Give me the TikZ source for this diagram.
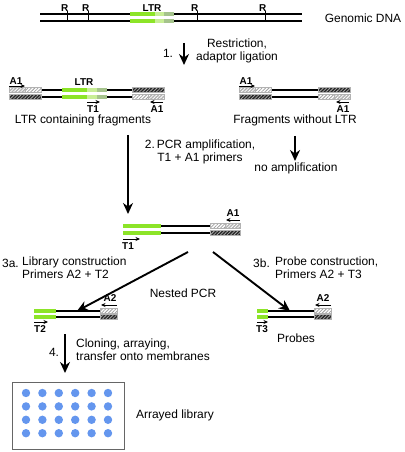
\documentclass[tikz,border=0pt]{standalone}
\usepackage{fontspec}
\setmainfont{Liberation Sans}
\usetikzlibrary{patterns.meta,arrows.meta}
\definecolor{ltrA}{RGB}{140,228,40}
\definecolor{ltrB}{RGB}{200,238,150}
\definecolor{ltrC}{RGB}{165,195,140}
\definecolor{dotblue}{RGB}{100,150,238}
\newcommand\hatchbox[5]{% x1 x2 y fill linecolor
  \fill[#4] (#1,#3-2.4) rectangle (#2,#3+2.4);
  \fill[pattern={Lines[angle=45,distance=2.4bp,line width=0.8bp]},pattern color=#5] (#1,#3-2.4) rectangle (#2,#3+2.4);
  \draw[gray!60,line width=0.3bp] (#1,#3-2.4) rectangle (#2,#3+2.4);}
\newcommand\gbox[4]{\fill[#4] (#1,#3-2.4) rectangle (#2,#3+2.4);}
\newcommand\ltrseg[5]{\gbox{#1}{#2}{#5}{ltrA}\gbox{#2}{#3}{#5}{ltrB}\gbox{#3}{#4}{#5}{ltrC}}
\newcommand\graybox[3]{\hatchbox{#1}{#2}{#3}{gray!60}{white}}
\newcommand\whitebox[3]{\hatchbox{#1}{#2}{#3}{white}{gray!75}}
\newcommand\darkbox[3]{\hatchbox{#1}{#2}{#3}{black!85}{gray!70}}
\begin{document}
\begin{tikzpicture}[x=1bp,y=-1bp,
  strand/.style={line width=1.1bp},
  tick/.style={line width=0.8bp},
  prim/.style={-{Stealth[length=4.5bp,width=4bp]},line width=0.9bp},
  big/.style={-{Stealth[length=11bp,width=10bp]},line width=1.9bp},
  lab/.style={font=\fontsize{10}{10}\selectfont\bfseries,inner sep=0},
  txt/.style={font=\fontsize{12}{13}\selectfont,inner sep=0}]
\useasboundingbox (0,0) rectangle (404,452);

% ---------- Genomic DNA
\draw[strand] (40,14) -- (302,14) (40,21) -- (302,21);
\ltrseg{130}{155}{164}{174}{14}
\ltrseg{130}{155}{164}{174}{21}
\foreach \x/\n in {67/1,88/2,197/3,265/4}{
  \draw[tick] (\x,11) -- (\x,21);
  \node[lab,anchor=south east] (r\n) at (\x+1.5,12) {R};}
\node[lab] (ltr0) at (152,8) {LTR};
\node[txt] (gdna) at (363,18) {Genomic DNA};

% ---------- step 1
\coordinate (s1a) at (184,43); \coordinate (s1b) at (184,65);
\draw[big] (s1a) -- (s1b);
\node[txt] (n1) at (168,53) {1.};
\node[txt,align=center] (t1) at (237,51) {Restriction,\\adaptor ligation};

% ---------- LTR containing fragment
\draw[strand] (9,90) -- (164,90) (9,97) -- (164,97);
\graybox{9}{25}{90}\whitebox{25}{41}{90}
\darkbox{9}{41}{97}
\ltrseg{62}{87}{97}{107}{90}
\ltrseg{62}{87}{97}{107}{97}
\darkbox{132}{164}{90}
\whitebox{132}{148}{97}\graybox{148}{164}{97}
\node[lab] (a1l) at (16,81) {A1};
\coordinate (pa1) at (9,86); \coordinate (pa2) at (25,86);
\draw[prim] (pa1) -- (pa2);
\node[lab] (ltr1) at (84,82) {LTR};
\coordinate (pt1) at (87,102); \coordinate (pt2) at (100,102);
\draw[prim] (pt1) -- (pt2);
\node[lab] (t1l) at (93,109) {T1};
\coordinate (pb1) at (163,102); \coordinate (pb2) at (150,102);
\draw[prim] (pb1) -- (pb2);
\node[lab] (a1r) at (157,109) {A1};
\node[txt] (ltrfrag) at (83,120) {LTR containing fragments};

% ---------- fragment without LTR
\draw[strand] (239,90) -- (350,90) (239,97) -- (350,97);
\graybox{239}{255}{90}\whitebox{255}{271}{90}
\darkbox{239}{271}{97}
\darkbox{318}{350}{90}
\whitebox{318}{334}{97}\graybox{334}{350}{97}
\node[lab] (a1l2) at (246,81) {A1};
\coordinate (qa1) at (239,86); \coordinate (qa2) at (255,86);
\draw[prim] (qa1) -- (qa2);
\coordinate (qb1) at (349,102); \coordinate (qb2) at (336,102);
\draw[prim] (qb1) -- (qb2);
\node[lab] (a1r2) at (343,109) {A1};
\node[txt] (nofrag) at (295,120) {Fragments without LTR};

% ---------- step 2
\coordinate (s2a) at (128,135); \coordinate (s2b) at (128,214);
\draw[big] (s2a) -- (s2b);
\node[txt,align=center] (t2) at (200,152) {2.\,PCR amplification,\\T1 + A1 primers};
\coordinate (s2c) at (295,136); \coordinate (s2d) at (295,161);
\draw[big] (s2c) -- (s2d);
\node[txt] (noamp) at (296,168) {no amplification};

% ---------- PCR product
\draw[strand] (123,226) -- (240,226) (123,233) -- (240,233);
\gbox{123}{161}{226}{ltrA}\gbox{123}{161}{233}{ltrA}
\whitebox{210}{225}{226}\graybox{225}{240}{226}
\darkbox{210}{240}{233}
\node[lab] (a1p) at (233,213) {A1};
\coordinate (pc1) at (240,220); \coordinate (pc2) at (226,220);
\draw[prim] (pc1) -- (pc2);
\coordinate (pd1) at (123,239); \coordinate (pd2) at (140,239);
\draw[prim] (pd1) -- (pd2);
\node[lab] (t1p) at (128,246) {T1};

% ---------- step 3 arrows
\coordinate (s3a) at (188,252); \coordinate (s3b) at (77,311);
\draw[big] (s3a) -- (s3b);
\coordinate (s3c) at (213,252); \coordinate (s3d) at (290,311);
\draw[big] (s3c) -- (s3d);
\node[txt,anchor=west] (n3a) at (2,263) {3a.};
\node[txt,anchor=north west,align=left] (t3a) at (22,257) {Library construction\\Primers A2 + T2};
\node[txt,anchor=west] (n3b) at (253,263) {3b.};
\node[txt,anchor=north west,align=left] (t3b) at (275,257) {Probe construction,\\Primers A2 + T3};
\node[txt] (nested) at (183,293) {Nested PCR};

% ---------- library product
\draw[strand] (34,311) -- (117,311) (34,317) -- (117,317);
\gbox{34}{56}{311}{ltrA}\gbox{34}{56}{317}{ltrA}
\whitebox{100}{117}{311}\darkbox{100}{117}{317}
\node[lab] (a2l) at (110,298.5) {A2};
\coordinate (pe1) at (117,305); \coordinate (pe2) at (101,305);
\draw[prim] (pe1) -- (pe2);
\coordinate (pf1) at (34,322); \coordinate (pf2) at (48,322);
\draw[prim] (pf1) -- (pf2);
\node[lab] (t2l) at (40,329) {T2};

% ---------- probe product
\draw[strand] (257,311) -- (331,311) (257,317) -- (331,317);
\gbox{257}{268}{311}{ltrA}\gbox{257}{268}{317}{ltrA}
\whitebox{314}{331}{311}\darkbox{314}{331}{317}
\node[lab] (a2r) at (323,298.5) {A2};
\coordinate (pg1) at (331,305); \coordinate (pg2) at (315,305);
\draw[prim] (pg1) -- (pg2);
\coordinate (ph1) at (257,322); \coordinate (ph2) at (268,322);
\draw[prim] (ph1) -- (ph2);
\node[lab] (t3l) at (262,329) {T3};
\node[txt] (probes) at (296,338) {Probes};

% ---------- step 4
\coordinate (s4a) at (65,334); \coordinate (s4b) at (65,373);
\draw[big] (s4a) -- (s4b);
\node[txt] (n4) at (54,352) {4.};
\node[txt,anchor=north west,align=left] (t4) at (76,339) {Cloning, arraying,\\transfer onto membranes};

% ---------- arrayed library
\draw[gray!80!black,line width=0.6bp] (12,382) rectangle (124,449);
\foreach \i in {0,...,5}{\foreach \j in {0,...,3}{
  \fill[dotblue] (26+16.4*\i,393+13.4*\j) circle (4.2);}}
\node[txt] (arr) at (175,415) {Arrayed library};
\end{tikzpicture}
\end{document}
